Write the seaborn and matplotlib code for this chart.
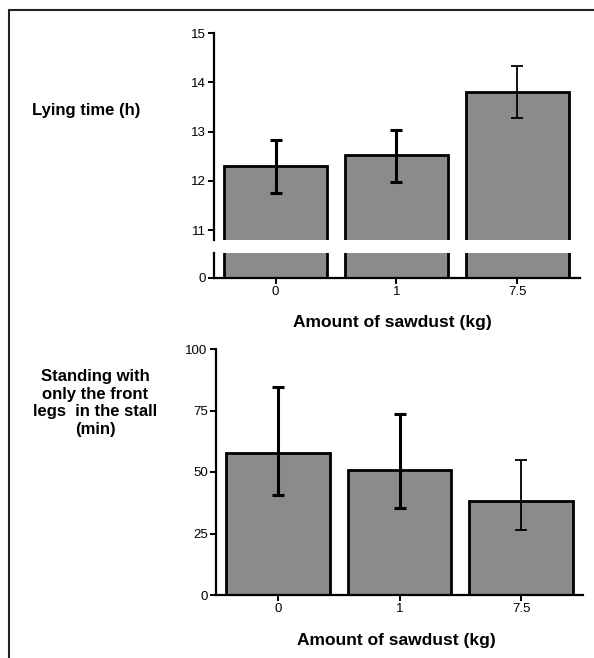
import matplotlib

matplotlib.use("Agg")
import matplotlib.pyplot as plt
from matplotlib.lines import Line2D
import pandas as pd
import seaborn as sns

sns.set_theme(style="ticks")
plt.rcParams["font.family"] = ["Liberation Sans", "DejaVu Sans"]
plt.rcParams["text.color"] = "black"

# data
sawdust = ["0", "1", "7.5"]
lying_mean = [12.3, 12.53, 13.8]
lying_low = [11.76, 11.97, 13.27]
lying_high = [12.83, 13.04, 14.33]
front_mean = [57.7, 50.8, 38.2]
front_low = [40.6, 35.4, 26.4]
front_high = [84.6, 73.6, 54.9]

BAR = "#8b8c89"
W, H = 594, 658


def box(left, top, right, bottom):
    # pixel box -> figure fraction rect
    return [left / W, 1 - bottom / H, (right - left) / W, (bottom - top) / H]


def style(ax):
    sns.despine(ax=ax)
    for s in ("left", "bottom"):
        ax.spines[s].set_linewidth(1.6)
        ax.spines[s].set_color("black")
    ax.tick_params(width=1.4, length=4, labelsize=9.5, colors="black", pad=2)
    ax.set_xlabel("")
    ax.set_ylabel("")


def bars(ax, means, low, high, lw_err):
    df = pd.DataFrame({"sawdust": sawdust, "value": means})
    sns.barplot(data=df, x="sawdust", y="value", ax=ax, color=BAR, width=0.85,
                edgecolor="black", linewidth=2, errorbar=None, saturation=1)
    err = [[m - l for m, l in zip(means, low)], [h - m for m, h in zip(means, high)]]
    for i in range(3):
        ax.errorbar(i, means[i], yerr=[[err[0][i]], [err[1][i]]], fmt="none",
                    ecolor="black", elinewidth=lw_err[i], capsize=4.5,
                    capthick=lw_err[i], zorder=5)


fig = plt.figure(figsize=(W / 100, H / 100), dpi=100)

# --- top panel, broken y axis ---
ax_hi = fig.add_axes(box(214, 33, 580, 240))
ax_lo = fig.add_axes(box(214, 253, 580, 278))
for ax in (ax_hi, ax_lo):
    bars(ax, lying_mean, lying_low, lying_high, [2.2, 2.2, 1.3])
    style(ax)
    ax.set_xlim(-0.51, 2.52)
ax_hi.set_ylim(10.8, 15)
ax_hi.set_yticks([11, 12, 13, 14, 15])
ax_hi.spines["bottom"].set_visible(False)
ax_hi.tick_params(axis="x", bottom=False, labelbottom=False)
ax_lo.set_ylim(0, 0.5)
ax_lo.set_yticks([0])
ax_lo.set_xticks(range(3), sawdust)

fig.text(32 / W, 1 - 110 / H, "Lying time (h)", fontsize=12, fontweight="bold",
         va="center", ha="left")
fig.text(392 / W, 1 - 323 / H, "Amount of sawdust (kg)", fontsize=12.5, fontweight="bold",
         va="center", ha="center")

# --- bottom panel ---
ax_b = fig.add_axes(box(216, 349, 583, 595))
bars(ax_b, front_mean, front_low, front_high, [2.2, 2.2, 1.3])
style(ax_b)
ax_b.set_xlim(-0.51, 2.51)
ax_b.set_ylim(0, 100)
ax_b.set_yticks([0, 25, 50, 75, 100])

fig.text(95 / W, 1 - 403 / H, "Standing with\nonly the front\nlegs  in the stall\n(min)",
         fontsize=12, fontweight="bold", va="center", ha="center", linespacing=1.2)
fig.text(396 / W, 1 - 640 / H, "Amount of sawdust (kg)", fontsize=12.5, fontweight="bold",
         va="center", ha="center")

# outer frame (top and left edges only)
fig.add_artist(Line2D([8.5 / W, 8.5 / W], [0, 1 - 10 / H], color="#222222", lw=1.5))
fig.add_artist(Line2D([8.5 / W, 1], [1 - 10 / H, 1 - 10 / H], color="#222222", lw=1.5))

fig.savefig("out.png", dpi=100)
